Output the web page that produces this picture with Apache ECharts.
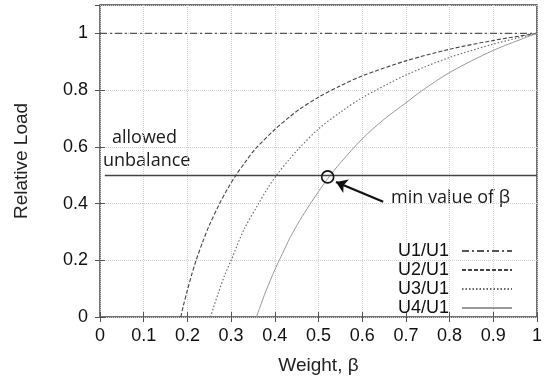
<!DOCTYPE html>
<html><head><meta charset="utf-8">
<script src="https://cdn.jsdelivr.net/npm/echarts@6/dist/echarts.min.js"></script>
<style>html,body{margin:0;padding:0;background:#fff}#c{width:545px;height:381px}</style>
</head><body><div id="c"></div>
<script>
var seriesNames = ['U1/U1','U2/U1','U3/U1','U4/U1'];
var u1Data = [[0,1],[1,1]];
var u2Data = [[0.185,0],[0.19,0.035],[0.2,0.095],[0.21,0.15],[0.22,0.2],[0.235,0.265],[0.25,0.323],[0.273,0.398],[0.292,0.452],[0.311,0.5],[0.33,0.541],[0.354,0.59],[0.4,0.661],[0.435,0.707],[0.457,0.733],[0.5,0.775],[0.55,0.815],[0.6,0.85],[0.7,0.903],[0.8,0.944],[0.9,0.975],[1,1]];
var u3Data = [[0.253,0],[0.26,0.035],[0.27,0.081],[0.285,0.146],[0.3,0.2],[0.33,0.31],[0.363,0.4],[0.382,0.45],[0.404,0.5],[0.43,0.55],[0.457,0.597],[0.5,0.663],[0.55,0.722],[0.6,0.773],[0.7,0.853],[0.8,0.915],[0.9,0.962],[1,1]];
var u4Data = [[0.358,0],[0.365,0.03],[0.372,0.06],[0.38,0.093],[0.39,0.13],[0.401,0.17],[0.418,0.225],[0.435,0.28],[0.457,0.34],[0.48,0.396],[0.5,0.442],[0.521,0.488],[0.55,0.543],[0.6,0.628],[0.65,0.697],[0.7,0.755],[0.736,0.797],[0.8,0.862],[0.9,0.94],[1,1]];
var allowedLevel = 0.5;
var minBeta = [0.521, 0.494];
var xTicks = {min:0, max:1, interval:0.1};
var yTicks = {min:0, max:1.1, interval:0.2};

var chart = echarts.init(document.getElementById('c'), null, {renderer:'canvas'});
var FONT = 'Liberation Sans';
var TFONT = 'Open Sans';
var split = {show:true, lineStyle:{color:'#cfcfcf', type:[1,1], width:1}};
function mkX(idx){
  return {type:'value', min:xTicks.min, max:xTicks.max, interval:xTicks.interval, position: idx? 'top':'bottom',
    axisLine:{show:false}, axisTick:{show:true, inside:true, length:5, lineStyle:{color:'#555'}},
    splitLine: idx? {show:false}: split,
    axisLabel: idx? {show:false} : {color:'#111', fontSize:18, fontFamily:FONT, margin:10},
    name: idx? '' : 'Weight, β', nameLocation:'middle', nameGap:39,
    nameTextStyle:{color:'#222', fontSize:19, fontFamily:FONT}};
}
function mkY(idx){
  return {type:'value', min:yTicks.min, max:yTicks.max, interval:yTicks.interval, position: idx? 'right':'left',
    axisLine:{show:false}, axisTick:{show:true, inside:true, length:5, lineStyle:{color:'#555'}},
    splitLine: idx? {show:false}: split,
    axisLabel: idx? {show:false} : {color:'#111', fontSize:18, fontFamily:FONT, margin:12, showMaxLabel:false,
      formatter:function(v){ return v>1.05 ? '' : String(Math.round(v*10)/10); }},
    name: idx? '' : 'Relative Load', nameLocation:'middle', nameGap:69,
    nameTextStyle:{color:'#222', fontSize:19, fontFamily:FONT}};
}
chart.setOption({
  animation:false,
  backgroundColor:'#fff',
  grid:{left:100, right:8, top:5, bottom:64, show:true, borderColor:'#444', borderWidth:1.5, backgroundColor:'transparent'},
  xAxis:[mkX(0), mkX(1)],
  yAxis:[mkY(0), mkY(1)],
  legend:{orient:'vertical', align:'right', right:27, top:237, itemWidth:50, itemHeight:10, itemGap:1,
    itemStyle:{opacity:0},
    data:seriesNames, textStyle:{color:'#111', fontSize:18, fontFamily:FONT, padding:[0,8,0,0]}},
  series:[
    {name:seriesNames[0], type:'line', data:u1Data, symbol:'none', lineStyle:{color:'#555', width:1.2, type:[7,3,2,3]}, itemStyle:{color:'#555'}, z:3},
    {name:seriesNames[1], type:'line', data:u2Data, symbol:'none', smooth:0.3, lineStyle:{color:'#444', width:1.1, type:[4,2]}, itemStyle:{color:'#444'}, z:3},
    {name:seriesNames[2], type:'line', data:u3Data, symbol:'none', smooth:0.3, lineStyle:{color:'#666', width:1.1, type:[1.5,2]}, itemStyle:{color:'#666'}, z:3},
    {name:seriesNames[3], type:'line', data:u4Data, symbol:'none', smooth:0.3, lineStyle:{color:'#999', width:1, type:'solid'}, itemStyle:{color:'#999'}, z:3,
      markLine:{silent:true, animation:false, label:{show:false}, data:[
        [{coord:[0.011, allowedLevel], symbol:'none', lineStyle:{color:'#444', width:1.3, type:'solid'}}, {coord:[1, allowedLevel], symbol:'none'}],
        [{coord:[0.648, 0.406], symbol:'none', lineStyle:{color:'#111', width:2.2, type:'solid'}}, {coord:[0.54, 0.476], symbol:'arrow', symbolSize:11}]
      ]},
      markPoint:{silent:true, animation:false, data:[{coord:minBeta, symbol:'circle', symbolSize:12,
        itemStyle:{color:'rgba(0,0,0,0)', borderColor:'#111', borderWidth:1.6}, label:{show:false}}]}
    }
  ],
  graphic:[
    {type:'text', left:112, top:129, style:{text:'allowed', fill:'#1a1a1a', font:'18px "'+TFONT+'"'}},
    {type:'text', left:103, top:152, style:{text:'unbalance', fill:'#1a1a1a', font:'18px "'+TFONT+'"'}},
    {type:'text', left:391, top:189, style:{text:'min value of β', fill:'#1a1a1a', font:'18px "'+TFONT+'"'}}
  ]
});
</script></body></html>
